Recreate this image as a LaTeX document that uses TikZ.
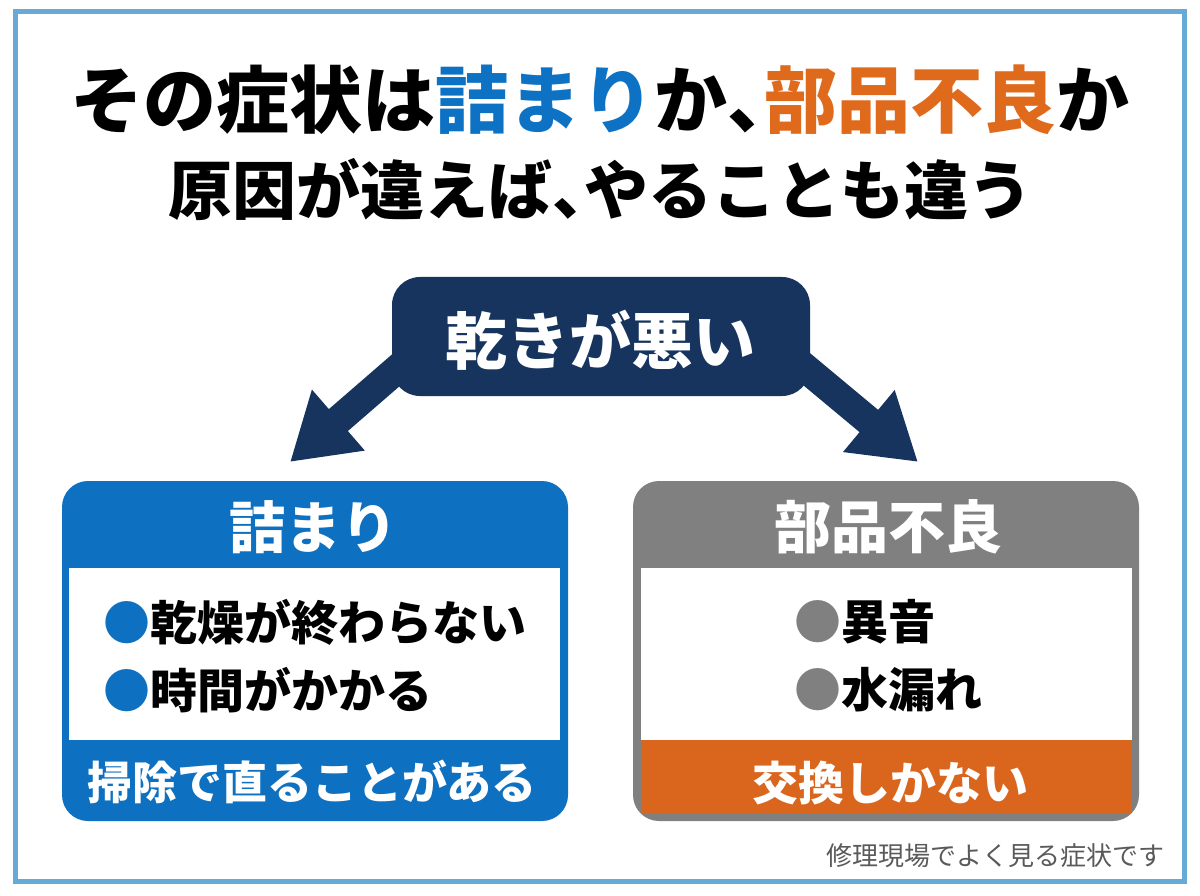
\documentclass[tikz,border=0pt]{standalone}
\usepackage{fontspec}
\newfontfamily\jp{Noto Sans CJK JP}
\usetikzlibrary{arrows.meta}
\definecolor{navy}{RGB}{22,52,94}
\definecolor{cblue}{RGB}{14,112,192}
\definecolor{cgray}{RGB}{128,128,128}
\definecolor{corange}{RGB}{218,102,30}
\definecolor{tblue}{RGB}{14,114,196}
\definecolor{torange}{RGB}{224,106,28}
\definecolor{framec}{RGB}{104,170,214}
\definecolor{notec}{RGB}{90,90,90}
\newcommand{\hcomma}{\makebox[0.5em][l]{、}}
\tikzset{
  jpt/.style={inner sep=0pt, font=\jp\bfseries\fontsize{#1}{#1}\selectfont},
  outerbox/.style={fill=#1, rounded corners=26pt, minimum width=506pt, minimum height=340pt, inner sep=0pt},
  panel/.style={fill=white, minimum width=491pt, minimum height=172pt, inner sep=0pt},
  bigarrow/.style={navy, line width=29pt, -{Triangle[width=76pt,length=64pt]}},
}
\begin{document}
\begin{tikzpicture}[x=1pt,y=-1pt]
\useasboundingbox (0,0) rectangle (1200,896);
\fill[white] (0,0) rectangle (1200,896);
\draw[framec, line width=5pt] (15,12) rectangle (1184,881);

% title
\node[jpt=73] (t1) at (600,100) {その症状は\textcolor{tblue}{詰まり}か\hcomma\textcolor{torange}{部品不良}か};
\node[jpt=64] (t2) at (600,190) {原因が違えば\hcomma やることも違う};

% arrows
\coordinate (ls) at (440,332);
\coordinate (lt) at (290,462);
\coordinate (rs) at (762,332);
\coordinate (rt) at (918,462);
\draw[bigarrow] (ls) -- (lt);
\draw[bigarrow] (rs) -- (rt);

% top node
\node[fill=navy, rounded corners=28pt, minimum width=418pt, minimum height=119pt, inner sep=0pt] (top) at (601,336.5) {};
\node[jpt=62, text=white] (toptxt) at (600,340) {乾きが悪い};

% left box
\node[outerbox=cblue] (lbox) at (315,651) {};
\node[panel] (lpanel) at (314,654) {};
\node[jpt=56, text=white] (lhead) at (313,527) {詰まり};
\node[jpt=47, anchor=west] (lb1) at (103,622) {\textcolor{cblue}{●}乾燥が終わらない};
\node[jpt=47, anchor=west] (lb2) at (103,690) {\textcolor{cblue}{●}時間がかかる};
\node[jpt=45, text=white] (lfoot) at (312,782) {掃除で直ることがある};

% right box
\node[outerbox=cgray] (rbox) at (886,651) {};
\node[panel] (rpanel) at (886.5,654) {};
\node[fill=corange, minimum width=490pt, minimum height=73pt, inner sep=0pt] (rband) at (887,776.5) {};
\node[jpt=57, text=white] (rhead) at (888,527) {部品不良};
\node[jpt=47, anchor=west] (rb1) at (794,622) {\textcolor{cgray}{●}異音};
\node[jpt=47, anchor=west] (rb2) at (794,690) {\textcolor{cgray}{●}水漏れ};
\node[jpt=46, text=white] (rfoot) at (890,783) {交換しかない};

% note
\node[inner sep=0pt, anchor=east, text=notec, font=\jp\fontsize{26}{26}\selectfont] (note) at (1165,856) {修理現場でよく見る症状です};
\end{tikzpicture}
\end{document}
